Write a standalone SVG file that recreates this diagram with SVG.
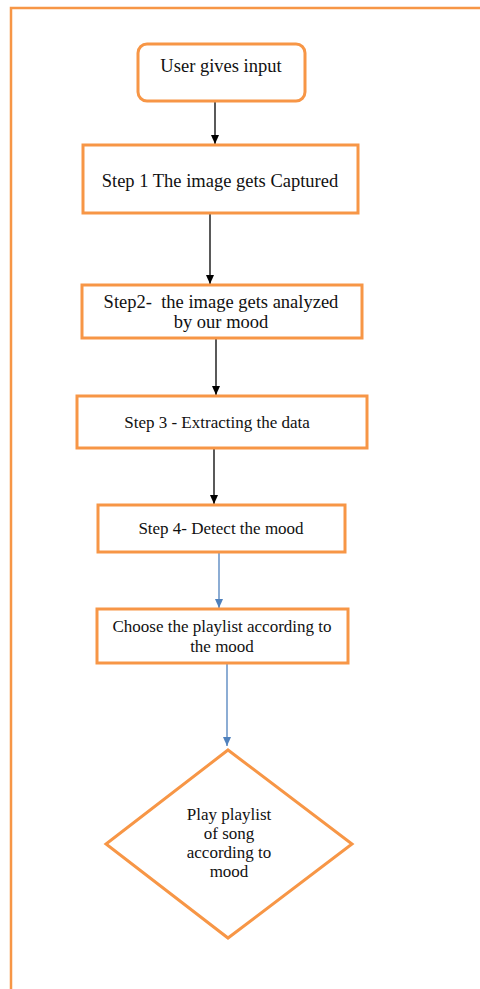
<svg xmlns="http://www.w3.org/2000/svg" width="480" height="989" viewBox="0 0 480 989" font-family="Liberation Serif, Times New Roman, serif">
<defs>
<style>
.box{fill:#fff;stroke:#F79646;stroke-width:3}
.frame{fill:none;stroke:#F79646;stroke-width:2.5}
.t{font-size:18.5px;fill:#111;text-anchor:middle}
.s{font-size:17px}
.k{stroke:#000;stroke-width:1.3;fill:none}
.b{stroke:#4F81BD;stroke-width:1.3;fill:none}
</style>
<marker id="ak" markerWidth="10" markerHeight="10" refX="9" refY="5" orient="auto" markerUnits="userSpaceOnUse"><path d="M0,1 L9,5 L0,9 z" fill="#000"/></marker>
<marker id="ab" markerWidth="10" markerHeight="10" refX="9" refY="5" orient="auto" markerUnits="userSpaceOnUse"><path d="M0,1 L9,5 L0,9 z" fill="#4F81BD"/></marker>
</defs>
<rect class="frame" x="11" y="8" width="480" height="995"/>
<g id="connectors">
<line class="k" x1="215" y1="101" x2="215" y2="144" marker-end="url(#ak)"/>
<line class="k" x1="210" y1="213" x2="210" y2="284" marker-end="url(#ak)"/>
<line class="k" x1="216" y1="338" x2="216" y2="395" marker-end="url(#ak)"/>
<line class="k" x1="214" y1="448" x2="214" y2="504" marker-end="url(#ak)"/>
<line class="b" x1="219" y1="552" x2="219" y2="608" marker-end="url(#ab)"/>
<line class="b" x1="227" y1="663" x2="227" y2="746" marker-end="url(#ab)"/>
</g>
<g id="n0"><rect class="box" x="138" y="44" width="167" height="57" rx="9"/><text class="t" x="221" y="72">User gives input</text></g>
<g id="n1"><rect class="box" x="83" y="145" width="275" height="68"/><text class="t" x="220" y="187">Step 1 The image gets Captured</text></g>
<g id="n2"><rect class="box" x="82" y="285" width="280" height="53"/><text class="t" x="221" y="308" xml:space="preserve">Step2-  the image gets analyzed</text><text class="t" x="221" y="328">by our mood</text></g>
<g id="n3"><rect class="box" x="77" y="396" width="290" height="52"/><text class="t s" x="217" y="428">Step 3 - Extracting the data</text></g>
<g id="n4"><rect class="box" x="98" y="505" width="247" height="47"/><text class="t s" x="221" y="534">Step 4- Detect the mood</text></g>
<g id="n5"><rect class="box" x="97" y="609" width="251" height="54"/><text class="t s" x="222" y="632">Choose the playlist according to</text><text class="t s" x="222" y="652">the mood</text></g>
<g id="n6"><polygon class="box" points="228,750 352,844 228,938 106,844"/><text class="t s" x="229" y="820">Play playlist</text><text class="t s" x="229" y="839">of song</text><text class="t s" x="229" y="858">according to</text><text class="t s" x="229" y="877">mood</text></g>
</svg>
